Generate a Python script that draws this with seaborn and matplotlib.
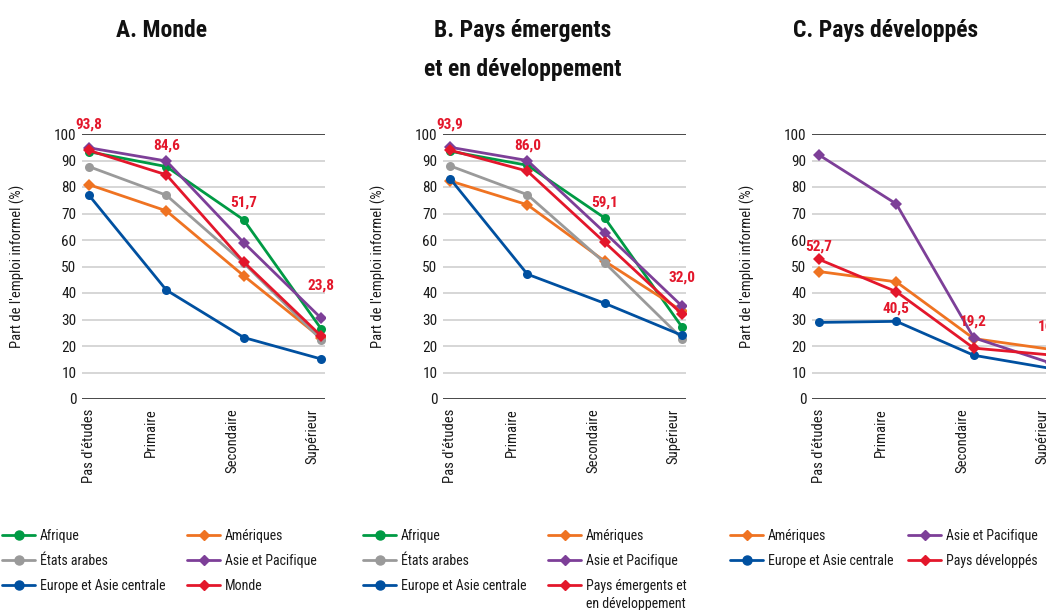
import numpy as np
import pandas as pd
import seaborn as sns
import matplotlib.pyplot as plt
import matplotlib.transforms as mtransforms
from matplotlib.lines import Line2D

sns.set_style("white")
plt.rcParams['font.family'] = ['Roboto Condensed', 'IBM Plex Sans Condensed',
                               'Liberation Sans Narrow', 'DejaVu Sans']

niveaux = ["Pas d'études", "Primaire", "Secondaire", "Supérieur"]

# A. Monde
a_afrique = [93.3, 87.7, 67.6, 26.5]
a_ameriques = [80.9, 71.0, 46.5, 23.0]
a_etats_arabes = [87.7, 76.9, 51.3, 22.4]
a_asie = [94.8, 89.8, 59.0, 30.5]
a_europe = [76.9, 41.1, 23.2, 15.1]
a_monde = [93.8, 84.6, 51.7, 23.8]

# B. Pays émergents et en développement
b_afrique = [93.5, 88.2, 68.3, 27.1]
b_ameriques = [82.3, 73.3, 52.0, 33.2]
b_etats_arabes = [88.0, 77.1, 51.4, 22.8]
b_asie = [95.0, 90.0, 62.8, 35.0]
b_europe = [83.2, 47.1, 36.1, 24.0]
b_emergents = [93.9, 86.0, 59.1, 32.0]

# C. Pays développés
c_ameriques = [48.1, 44.2, 22.8, 18.7]
c_asie = [92.1, 73.6, 23.1, 13.5]
c_europe = [28.9, 29.3, 16.5, 11.5]
c_developpes = [52.7, 40.5, 19.2, 16.6]

couleurs = {
    "Afrique": "#009a44",
    "Amériques": "#ef7322",
    "États arabes": "#9a9a9a",
    "Asie et Pacifique": "#7d3f98",
    "Europe et Asie centrale": "#0050a0",
    "Monde": "#e3172b",
    "Pays émergents et\nen développement": "#e3172b",
    "Pays développés": "#e3172b",
}
marqueurs = {
    "Afrique": "o",
    "Amériques": "D",
    "États arabes": "o",
    "Asie et Pacifique": "D",
    "Europe et Asie centrale": "o",
    "Monde": "D",
    "Pays émergents et\nen développement": "D",
    "Pays développés": "D",
}

panneaux = [
    {
        "titre": "A. Monde",
        "series": {"Afrique": a_afrique, "Amériques": a_ameriques,
                   "États arabes": a_etats_arabes, "Asie et Pacifique": a_asie,
                   "Europe et Asie centrale": a_europe, "Monde": a_monde},
        "total": "Monde",
        "label_y": [103.4, 95.8, 74.3, 43.0],
        "legende": [["Afrique", "États arabes", "Europe et Asie centrale"],
                    ["Amériques", "Asie et Pacifique", "Monde"]],
    },
    {
        "titre": "B. Pays émergents\net en développement",
        "series": {"Afrique": b_afrique, "Amériques": b_ameriques,
                   "États arabes": b_etats_arabes, "Asie et Pacifique": b_asie,
                   "Europe et Asie centrale": b_europe,
                   "Pays émergents et\nen développement": b_emergents},
        "total": "Pays émergents et\nen développement",
        "label_y": [103.4, 95.8, 74.3, 45.7],
        "legende": [["Afrique", "États arabes", "Europe et Asie centrale"],
                    ["Amériques", "Asie et Pacifique",
                     "Pays émergents et\nen développement"]],
    },
    {
        "titre": "C. Pays développés",
        "series": {"Amériques": c_ameriques, "Asie et Pacifique": c_asie,
                   "Europe et Asie centrale": c_europe,
                   "Pays développés": c_developpes},
        "total": "Pays développés",
        "label_y": [57.4, 34.0, 29.1, 27.2],
        "legende": [["Amériques", "Europe et Asie centrale"],
                    ["Asie et Pacifique", "Pays développés"]],
    },
]

W, H = 1046, 610
fig = plt.figure(figsize=(W / 100, H / 100), dpi=100)

ax_left = [82, 443, 812]
titre_x = [161, 523, 886]
leg_x = [[2, 187], [363, 548], [730, 908]]
# decalage des etiquettes de l'axe x (px), comme dans l'original
tick_dx = [0, -15, -11, -9]
texte = "#1a1a1a"

suite = []
for i, p in enumerate(panneaux):
    ax = fig.add_axes([ax_left[i] / W, 1 - 399 / H, 243 / W, 265 / H])
    rows = []
    for region, vals in p["series"].items():
        for niv, v in zip(niveaux, vals):
            rows.append({"niveau": niv, "part": v, "region": region})
    df = pd.DataFrame(rows)
    ordre = list(p["series"].keys())
    sns.lineplot(data=df, x="niveau", y="part", hue="region", style="region",
                 hue_order=ordre, style_order=ordre,
                 palette=couleurs, markers=marqueurs, dashes=False,
                 linewidth=2.0, markersize=6.5, markeredgewidth=0,
                 sort=False, legend=False, ax=ax)

    ax.set_xlim(-0.09, 3.05)
    ax.set_ylim(0, 100)
    ax.set_yticks(np.arange(0, 101, 10))
    ax.yaxis.grid(True, color="#cccccc", linewidth=1.1)
    ax.set_axisbelow(True)
    ax.axhline(0, color="#222222", linewidth=1.1, zorder=1)
    ax.axhline(100, color="#222222", linewidth=1.1, zorder=1)
    for s in ax.spines.values():
        s.set_visible(False)
    ax.tick_params(axis="y", length=0, pad=4, labelsize=11, labelcolor=texte)
    ax.tick_params(axis="x", length=0, pad=7, labelsize=10.5, labelcolor=texte)
    ax.set_xticks(range(len(niveaux)))
    ax.set_xticklabels(niveaux, rotation=90, va="top", ha="center")
    for lab, dx in zip(ax.get_xticklabels(), tick_dx):
        lab.set_transform(lab.get_transform() +
                          mtransforms.ScaledTranslation(dx / 100, 0, fig.dpi_scale_trans))
    ax.set_xlabel("")
    ax.set_ylabel("Part de l'emploi informel (%)", fontsize=10.5, color=texte)
    ax.yaxis.set_label_coords(-0.235, 0.5)

    totaux = p["series"][p["total"]]
    for j, v in enumerate(totaux):
        ax.text(j, p["label_y"][j], f"{v:.1f}".replace(".", ","),
                color="#e3172b", fontsize=11, fontweight="bold",
                ha="center", va="center", clip_on=False)

    fig.text(titre_x[i] / W, 1 - 19 / H, p["titre"], ha="center", va="top",
             fontsize=17, fontweight="bold", linespacing=1.87, color="#111111")

    for c, col in enumerate(p["legende"]):
        handles = [Line2D([], [], color=couleurs[r], marker=marqueurs[r],
                          markersize=6.5 if marqueurs[r] == "o" else 5,
                          linewidth=2.0) for r in col]
        labels = [r.split("\n")[0] for r in col]
        leg = fig.legend(handles, labels, loc="upper left",
                         bbox_to_anchor=(leg_x[i][c] / W, 1 - 529 / H),
                         frameon=False, fontsize=10, handlelength=2.4,
                         handletextpad=0.35, labelspacing=0.78,
                         borderpad=0, borderaxespad=0, labelcolor=texte)
        for r, t in zip(col, leg.get_texts()):
            if "\n" in r:
                suite.append((t, r.split("\n", 1)[1]))

# seconde ligne des libelles de legende sur deux lignes
fig.canvas.draw()
for t, reste in suite:
    bb = t.get_window_extent()
    fig.text(bb.x0 / W, (bb.y0 - 4) / H, reste, ha="left", va="top",
             fontsize=10, color=texte)

fig.savefig("out.png", dpi=100)
